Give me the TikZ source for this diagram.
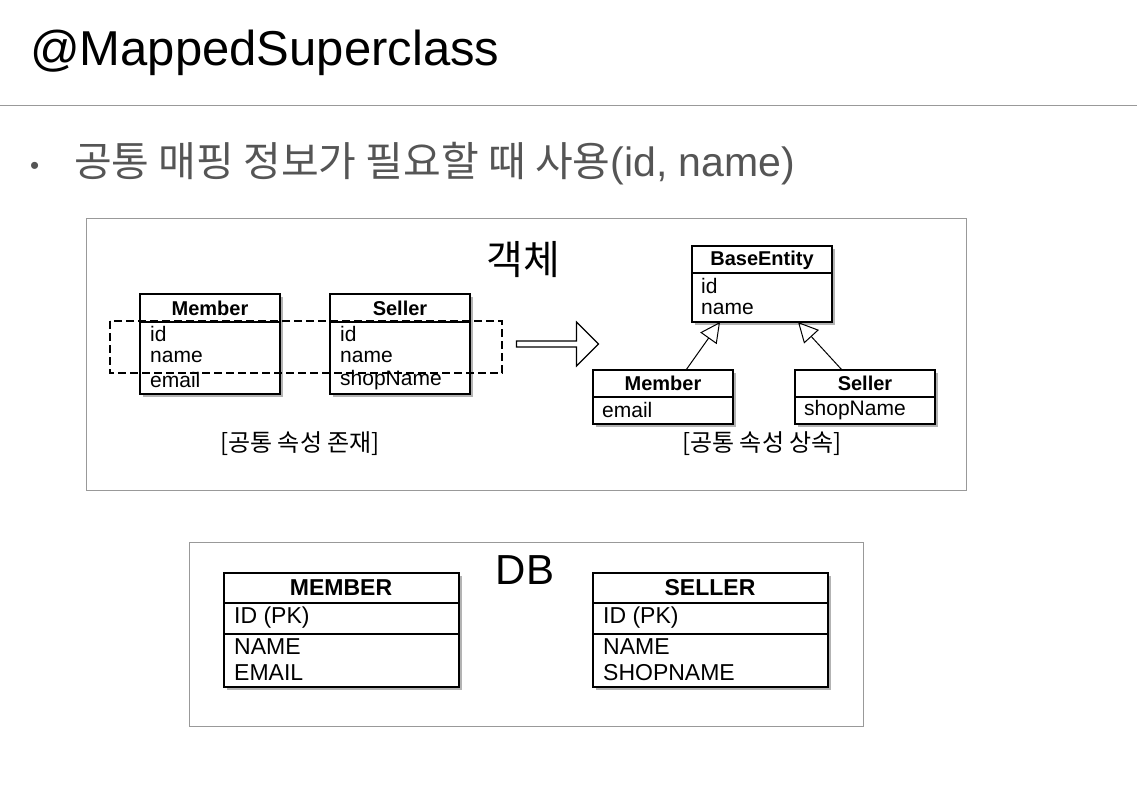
\documentclass[tikz,border=0pt]{standalone}
\usepackage{fontspec}
\setmainfont{Liberation Sans}
\newfontfamily\kr{Noto Sans CJK KR}
\usetikzlibrary{shadows,shapes.arrows,arrows.meta}
\definecolor{txtgray}{HTML}{555555}
\definecolor{framegray}{HTML}{999999}
\tikzset{
  frame/.style={draw=framegray, line width=0.8pt},
  classbox/.style={draw, fill=white, line width=1.2pt, drop shadow={opacity=0.6, shadow xshift=3pt, shadow yshift=-3pt}},
  cls/.style={font=\fontsize{20}{20}\selectfont\bfseries, anchor=center},
  attr/.style={font=\fontsize{21}{21}\selectfont, anchor=west, inner sep=0pt},
  dbattr/.style={font=\fontsize{23}{23}\selectfont, anchor=west, inner sep=0pt},
  inherit/.style={-{Triangle[open, length=20pt, width=20pt]}, line width=1pt}
}
\begin{document}
\begin{tikzpicture}[x=1pt,y=-1pt]
  \useasboundingbox (0,0) rectangle (1137,792);
  % title
  \node (title) [anchor=base west, inner sep=0pt, font=\fontsize{49}{49}\selectfont] at (30,66) {@MappedSuperclass};
  \draw[framegray, line width=0.8pt] (0,105) -- (1137,105);
  \node (bullet) [anchor=base west, inner sep=0pt, text=txtgray, font=\fontsize{26}{26}\selectfont] at (30,174) {•};
  \node (lead) [anchor=base west, inner sep=0pt, text=txtgray, font=\fontsize{41}{41}\selectfont] at (74,176) {{\kr 공통 매핑 정보가 필요할 때 사용}(id, name)};
  % object frame
  \draw[frame] (86,218) rectangle (966,490);
  \node (obj) [font=\kr\fontsize{40}{40}\selectfont] at (523,260) {객체};
  % Member / Seller
  \foreach \x/\nm/\last in {140/Member/email, 330/Seller/shopName} {
    \draw[classbox] (\x,294) rectangle ++(140,100);
    \draw[line width=1.2pt] (\x,322) -- ++(140,0);
    \node[cls] at (\x+70,308) {\nm};
    \node[attr] at (\x+10,334) {id};
    \node[attr] at (\x+10,357) {name};
    \node[attr] at (\x+10,380) {\last};
  }
  \draw[dash pattern=on 8pt off 4pt, line width=1.2pt] (110,321) rectangle (502,373);
  \node (move) [single arrow, draw, line width=1.2pt, minimum height=82pt, minimum width=44pt,
    single arrow head extend=10pt, inner sep=1pt] at (556,344) {};
  % BaseEntity
  \draw[classbox] (692,246) rectangle (832,322);
  \draw[line width=1.2pt] (692,273) -- (832,273);
  \node (base) [cls] at (762,260) {BaseEntity};
  \node[attr] at (701,286) {id};
  \node[attr] at (701,309) {name};
  \coordinate (baseL) at (720,322);
  \coordinate (baseR) at (798,322);
  % subclasses
  \foreach \x/\nm/\last in {593/Member/email, 795/Seller/shopName} {
    \draw[classbox] (\x,370) rectangle ++(140,54);
    \draw[line width=1.2pt] (\x,397) -- ++(140,0);
    \node[cls] at (\x+70,383) {\nm};
    \node[attr] at (\x+9,410) {\last};
  }
  \coordinate (subL) at (686,370);
  \coordinate (subR) at (842,370);
  \draw[inherit] (subL) -- (baseL);
  \draw[inherit] (subR) -- (baseR);
  \node (lblA) [font=\kr\fontsize{24}{24}\selectfont] at (300,444) {[공통 속성 존재]};
  \node (lblB) [font=\kr\fontsize{24}{24}\selectfont] at (762,444) {[공통 속성 상속]};
  % DB frame
  \draw[frame] (189,542) rectangle (863,726);
  \node (db) [font=\fontsize{42}{42}\selectfont] at (525,570) {DB};
  \foreach \x/\nm/\last in {224/MEMBER/EMAIL, 593/SELLER/SHOPNAME} {
    \draw[classbox] (\x,573) rectangle ++(235,114);
    \draw[line width=1.2pt] (\x,603) -- ++(235,0);
    \draw[line width=1.2pt] (\x,634) -- ++(235,0);
    \node[cls, font=\fontsize{23}{23}\selectfont\bfseries] at (\x+117,588) {\nm};
    \node[dbattr] at (\x+10,618) {ID (PK)};
    \node[dbattr] at (\x+10,647) {NAME};
    \node[dbattr] at (\x+10,673) {\last};
  }
\end{tikzpicture}
\end{document}
